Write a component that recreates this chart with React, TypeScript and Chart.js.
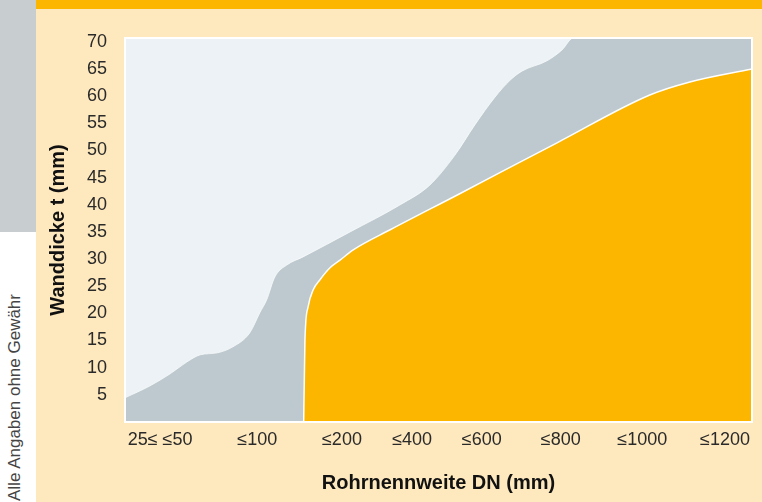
import React, { useEffect, useRef } from 'react';
import { Chart, registerables } from 'chart.js';

Chart.register(...registerables);

// X positions are in relative axis units (0 = left edge, 100 = right edge of the plot)
const xTickPositions = [5.6, 21.1, 34.6, 45.8, 56.9, 69.5, 82.5, 95.7];
const xTickLabels = ['25≤ ≤50', '≤100', '≤200', '≤400', '≤600', '≤800', '≤1000', '≤1200'];
const yTicks = [5, 10, 15, 20, 25, 30, 35, 40, 45, 50, 55, 60, 65, 70];

// upper boundary of grey zone
const greyX = [0, 4.0, 7.2, 9.9, 12.0, 14.7, 17.2, 19.9, 21.5, 22.6, 23.9, 25.8, 28.4, 35.9, 43.9, 48.6, 52.6, 55.8, 59.0, 61.4, 63.3, 67.3, 69.7, 71.5, 100];
const greyY = [4.45, 6.66, 8.87, 11.08, 12.37, 12.73, 13.84, 16.41, 20.1, 22.5, 26.7, 28.9, 30.4, 35.0, 40.0, 43.6, 49.1, 54.7, 59.8, 62.9, 64.6, 66.5, 68.5, 70.7, 70.7];

// upper boundary of orange zone
const orangeX = [28.5, 28.6, 28.7, 29.2, 30.0, 31.1, 32.7, 34.3, 36.4, 42.3, 53.0, 68.9, 83.7, 90.1, 100];
const orangeY = [0, 7.8, 15.1, 21.2, 24.3, 26.2, 28.4, 29.8, 31.7, 35.4, 41.8, 51.4, 60.2, 62.6, 65.0];

const Y_MAX = 70.7;

const plotFrame = {
  id: 'plotFrame',
  beforeDatasetsDraw(chart: any) {
    const { ctx, chartArea } = chart;
    const { left, top, right, bottom } = chartArea;
    ctx.save();
    ctx.fillStyle = '#ecf2f5';
    ctx.fillRect(left, top, right - left, bottom - top);
    ctx.restore();
  },
  afterDatasetsDraw(chart: any) {
    const { ctx, chartArea } = chart;
    const { left, top, right, bottom } = chartArea;
    ctx.save();
    ctx.strokeStyle = '#ffffff';
    ctx.lineWidth = 2;
    ctx.strokeRect(left, top, right - left, bottom - top);
    ctx.restore();
  },
};

export default function App() {
  const ref = useRef<HTMLCanvasElement | null>(null);

  useEffect(() => {
    if (!ref.current) return;
    const font = "'Liberation Sans', Arial, Helvetica, sans-serif";
    const chart = new Chart(ref.current, {
      type: 'line',
      data: {
        datasets: [
          {
            label: 'orange',
            data: orangeX.map((x, i) => ({ x, y: orangeY[i] })),
            borderColor: '#ffffff',
            borderWidth: 1.5,
            backgroundColor: '#fcb600',
            fill: 'origin',
            pointRadius: 0,
            cubicInterpolationMode: 'monotone',
          },
          {
            label: 'grey',
            data: greyX.map((x, i) => ({ x, y: greyY[i] })),
            borderColor: 'rgba(255,255,255,0.7)',
            borderWidth: 1,
            backgroundColor: '#bdc9ce',
            fill: 'origin',
            pointRadius: 0,
            cubicInterpolationMode: 'monotone',
          },
        ],
      },
      options: {
        animation: false,
        responsive: false,
        devicePixelRatio: 1,
        layout: { padding: { left: 0, right: 10, top: 29, bottom: 0 } },
        plugins: { legend: { display: false }, tooltip: { enabled: false } },
        scales: {
          x: {
            type: 'linear',
            min: 0,
            max: 100,
            grid: { display: false, drawTicks: false },
            border: { display: false },
            afterBuildTicks: (scale: any) => {
              scale.ticks = xTickPositions.map((v) => ({ value: v }));
            },
            afterFit: (scale: any) => {
              scale.height = 80;
            },
            ticks: {
              autoSkip: false,
              maxRotation: 0,
              padding: 7,
              color: '#2a2a2a',
              font: { family: font, size: 18 },
              callback: (_v: any, i: number) => xTickLabels[i],
            },
            title: {
              display: true,
              text: 'Rohrnennweite DN (mm)',
              color: '#111111',
              font: { family: font, size: 20, weight: 'bold' },
              padding: { top: 0, bottom: 7 },
            },
          },
          y: {
            type: 'linear',
            min: 0,
            max: Y_MAX,
            grid: { display: false, drawTicks: false },
            border: { display: false },
            afterBuildTicks: (scale: any) => {
              scale.ticks = yTicks.map((v) => ({ value: v }));
            },
            afterFit: (scale: any) => {
              scale.width = 89;
            },
            ticks: {
              padding: 18,
              color: '#2a2a2a',
              font: { family: font, size: 18 },
            },
            title: {
              display: true,
              text: 'Wanddicke t (mm)',
              color: '#111111',
              font: { family: font, size: 20, weight: 'bold' },
              padding: { top: 10, bottom: 0 },
            },
          },
        },
      },
      plugins: [plotFrame],
    } as any);
    return () => chart.destroy();
  }, []);

  return (
    <div style={{ position: 'fixed', left: 0, top: 0, width: 762, height: 502, background: '#ffffff', overflow: 'hidden' }}>
      <div style={{ position: 'absolute', left: 0, top: 0, width: 36, height: 232, background: '#c8cdcf' }} />
      <div style={{ position: 'absolute', left: 36, top: 0, width: 726, height: 9, background: '#fcb600' }} />
      <div
        style={{
          position: 'absolute',
          left: 5,
          top: 501,
          transformOrigin: 'left top',
          transform: 'rotate(-90deg)',
          whiteSpace: 'nowrap',
          fontFamily: "'Liberation Sans', Arial, sans-serif",
          fontSize: 17,
          lineHeight: '20px',
          color: '#444444',
        }}
      >
        Alle Angaben ohne Gewähr
      </div>
      <div style={{ position: 'absolute', left: 36, top: 9, width: 726, height: 493, background: '#fee8bd' }}>
        <canvas ref={ref} width={726} height={493} style={{ display: 'block' }} />
      </div>
    </div>
  );
}
